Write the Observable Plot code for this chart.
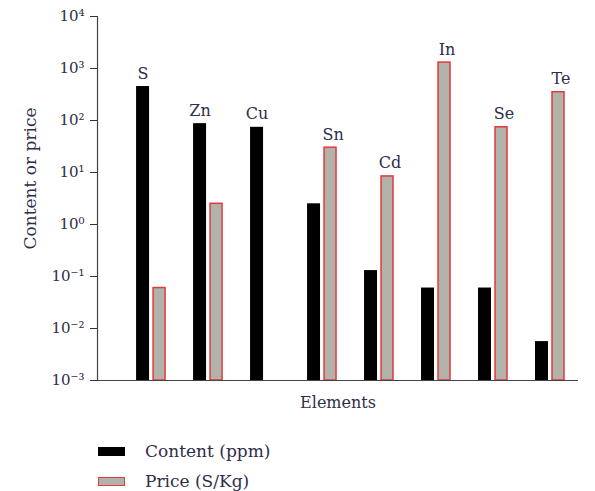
<!DOCTYPE html>
<html>
<head>
<meta charset="utf-8">
<script src="https://cdn.jsdelivr.net/npm/d3@7"></script>
<script src="https://cdn.jsdelivr.net/npm/@observablehq/plot@0.6"></script>
<style>
  body { margin: 0; background: #fff; font-family: "DejaVu Serif", "Liberation Serif", serif; }
  #chart svg { display: block; }
  .legend { position: relative; height: 66px; color: #2e2e48; font-size: 17px; }
  .row { position: absolute; left: 98px; display: flex; align-items: center; }
  .sw { width: 27px; height: 9px; box-sizing: border-box; margin-right: 20px; }
</style>
</head>
<body>
<div id="chart"></div>
<div class="legend">
  <div class="row" style="top:16px"><div class="sw" style="background:#000"></div><span>Content (ppm)</span></div>
  <div class="row" style="top:46px"><div class="sw" style="background:#b1b2a9;border:1.5px solid #e23a3a"></div><span>Price (S/Kg)</span></div>
</div>
<script>
const elements = ["S", "Zn", "Cu", "Sn", "Cd", "In", "Se", "Te"];
const content = [450, 87, 74, 2.5, 0.13, 0.06, 0.06, 0.0056];
const price = [0.06, 2.5, null, 30, 8.4, 1300, 74, 350];
const yTicks = [1e-3, 1e-2, 1e-1, 1e0, 1e1, 1e2, 1e3, 1e4];

const sup = {"-": "\u207B", "0": "\u2070", "1": "\u00B9", "2": "\u00B2", "3": "\u00B3", "4": "\u2074", "5": "\u2075", "6": "\u2076", "7": "\u2077", "8": "\u2078", "9": "\u2079"};
const fmt = d => "10" + String(Math.round(Math.log10(d))).split("").map(c => sup[c]).join("");

const contentData = elements.map((e, i) => ({element: e, value: content[i]})).filter(d => d.value != null);
const priceData = elements.map((e, i) => ({element: e, value: price[i]})).filter(d => d.value != null);
const labelData = elements.map((e, i) => {
  const c = content[i] ?? 0, p = price[i] ?? 0;
  return {element: e, value: Math.max(c, p), side: c >= p ? "content" : "price"};
});

const plot = Plot.plot({
  width: 595,
  height: 425,
  marginLeft: 97,
  marginRight: 17,
  marginTop: 16,
  marginBottom: 45,
  style: {fontFamily: "DejaVu Serif, Liberation Serif, serif", fontSize: "15px", color: "#2e2e48", background: "#fff"},
  x: {type: "band", domain: elements, paddingInner: 0, paddingOuter: 0.22, align: 1, round: false, axis: null},
  y: {type: "log", domain: [1e-3, 1e4], axis: null},
  marks: [
    Plot.axisY({ticks: yTicks, tickFormat: fmt, tickSize: 7, tickPadding: 6, fontSize: 15, label: null}),
    Plot.text(["Content or price"], {frameAnchor: "left", textAnchor: "middle", dx: -67, dy: -20, rotate: -90, fontSize: 17, fill: "#2e2e48"}),
    Plot.barY(contentData, {x: "element", y1: 1e-3, y2: "value", fill: "#000", insetLeft: 14, insetRight: 30}),
    Plot.barY(priceData, {x: "element", y1: 1e-3, y2: "value", fill: "#b1b2a9", stroke: "#e23a3a", strokeWidth: 1.5, insetLeft: 31, insetRight: 14}),
    Plot.text(labelData.filter(d => d.side === "content"), {x: "element", y: "value", text: "element", dx: -8, lineAnchor: "bottom", dy: -8, fontSize: 16, fill: "#2e2e48"}),
    Plot.text(labelData.filter(d => d.side === "price"), {x: "element", y: "value", text: "element", dx: 11, lineAnchor: "bottom", dy: -8, fontSize: 16, fill: "#2e2e48"}),
    Plot.ruleY([1e-3], {stroke: "#444", strokeWidth: 1.2}),
    Plot.frame({anchor: "left", stroke: "#444", strokeWidth: 1.2}),
    Plot.text(["Elements"], {frameAnchor: "bottom", dy: 27, fontSize: 16, fill: "#2e2e48"})
  ]
});
document.getElementById("chart").appendChild(plot);
</script>
</body>
</html>
